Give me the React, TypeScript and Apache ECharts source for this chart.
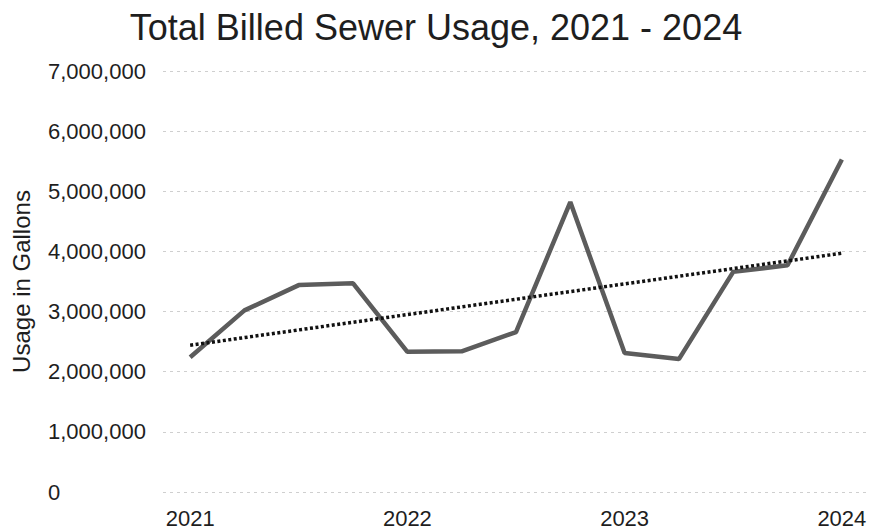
import React, { useEffect, useRef } from "react";
import * as echarts from "echarts";

const quarters = [
  "2021 Q1", "2021 Q2", "2021 Q3", "2021 Q4",
  "2022 Q1", "2022 Q2", "2022 Q3", "2022 Q4",
  "2023 Q1", "2023 Q2", "2023 Q3", "2023 Q4",
  "2024 Q1",
];
const usage = [
  2240000, 3020000, 3440000, 3470000,
  2330000, 2340000, 2660000, 4820000,
  2310000, 2210000, 3660000, 3770000,
  5530000,
];
const trendStart = 2440000;
const trendEnd = 3970000;
const yTicks = [0, 1000000, 2000000, 3000000, 4000000, 5000000, 6000000, 7000000];

export default function App() {
  const ref = useRef<HTMLDivElement>(null);
  useEffect(() => {
    document.body.style.margin = "0";
    if (!ref.current) return;
    const chart = echarts.init(ref.current, null, { renderer: "svg" });
    const trend = quarters.map((_, i) =>
      i === 0 ? trendStart : i === quarters.length - 1 ? trendEnd : null
    );
    const font = "Liberation Sans, Arial, sans-serif";
    chart.setOption({
      animation: false,
      backgroundColor: "#ffffff",
      title: {
        text: "Total Billed Sewer Usage, 2021 - 2024",
        left: "center",
        top: 4,
        textStyle: { fontFamily: font, fontSize: 36, fontWeight: "normal", color: "#1e1e1e" },
      },
      grid: { left: 163, right: 3, top: 71, bottom: 39 },
      xAxis: {
        type: "category",
        data: quarters,
        boundaryGap: true,
        axisLine: { show: false },
        axisTick: { show: false },
        axisLabel: {
          interval: 3,
          margin: 15,
          fontFamily: font,
          fontSize: 22,
          color: "#1e1e1e",
          formatter: (v: string) => v.slice(0, 4),
        },
        splitLine: { show: false },
      },
      yAxis: {
        type: "value",
        min: yTicks[0],
        max: yTicks[yTicks.length - 1],
        interval: yTicks[1] - yTicks[0],
        name: "Usage in Gallons",
        nameLocation: "middle",
        nameGap: 130,
        nameTextStyle: { fontFamily: font, fontSize: 24, color: "#1e1e1e" },
        axisLine: { show: false },
        axisTick: { show: false },
        axisLabel: {
          margin: 115,
          align: "left",
          fontFamily: font,
          fontSize: 22,
          color: "#1e1e1e",
          formatter: (v: number) => v.toLocaleString("en-US"),
        },
        splitLine: { show: true, lineStyle: { color: "#cfcfcf", width: 1, type: [3, 4] } },
      },
      series: [
        {
          type: "line",
          data: usage,
          symbol: "none",
          lineStyle: { color: "#5c5c5c", width: 4.5 },
          z: 2,
        },
        {
          type: "line",
          data: trend,
          connectNulls: true,
          symbol: "none",
          lineStyle: { color: "#111111", width: 3.5, type: [3, 2.5] },
          z: 3,
        },
      ],
    });
    return () => chart.dispose();
  }, []);
  return <div ref={ref} style={{ width: 872, height: 531 }} />;
}
